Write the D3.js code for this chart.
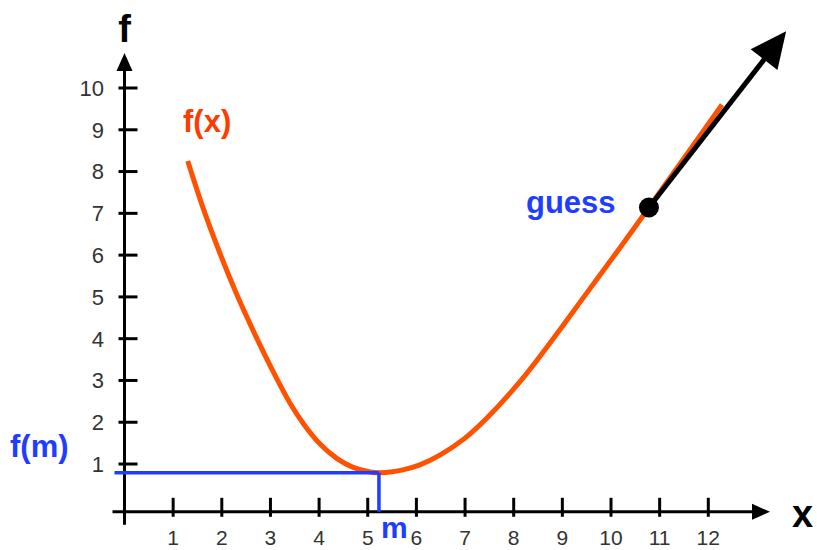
<!DOCTYPE html>
<html>
<head>
<meta charset="utf-8">
<script src="https://cdn.jsdelivr.net/npm/d3@7"></script>
<style>
  html, body { margin: 0; padding: 0; background: #fff; }
  svg { display: block; font-family: "Liberation Sans", Arial, sans-serif; }
</style>
</head>
<body>
<svg id="chart" width="817" height="550"></svg>
<script>
// Sampled points of f(x)
const curveX = [1.3, 1.6, 1.95, 2.3, 2.65, 3.0, 3.4, 3.7, 4.02, 4.37, 4.7, 5.05, 5.25, 5.72, 6.07, 6.49, 7.0, 7.45, 8.15, 8.8, 9.5, 10.2, 10.78, 11.5, 12.28];
const curveY = [8.25, 7.18, 6.08, 5.08, 4.18, 3.34, 2.46, 1.93, 1.48, 1.13, 0.92, 0.81, 0.79, 0.86, 0.98, 1.22, 1.62, 2.1, 3.0, 3.98, 5.09, 6.2, 7.14, 8.32, 9.6];

// Axis tick labels
const xTicks = [1, 2, 3, 4, 5, 6, 7, 8, 9, 10, 11, 12];
const yTicks = [1, 2, 3, 4, 5, 6, 7, 8, 9, 10];

// Minimum m and f(m)
const minPoint = [5.23, 0.79];
// Starting guess and direction arrow end
const guessPoint = [10.78, 7.14];
const arrowEnd = [13.6, 11.36];

const svg = d3.select("#chart");

const x = d3.scaleLinear().domain([0, 12]).range([124.5, 708.3]);
const y = d3.scaleLinear().domain([0, 10]).range([505.8, 88]);

const axisY = y(0) + 6;   // horizontal axis sits slightly below zero
const axisX = x(0);

const ORANGE = "#ff5200";
const BLUE = "#1f3dff";

// --- axes ---
const axes = svg.append("g").attr("stroke", "#000").attr("stroke-width", 3);
axes.append("line").attr("x1", axisX - 12).attr("x2", 754).attr("y1", axisY).attr("y2", axisY);
axes.append("line").attr("x1", axisX).attr("x2", axisX).attr("y1", axisY + 13).attr("y2", 68);

svg.append("path")
  .attr("d", `M${axisX},53 L${axisX - 8},71 L${axisX + 8},71 Z`)
  .attr("fill", "#000");
svg.append("path")
  .attr("d", `M770,${axisY} L752,${axisY - 8} L752,${axisY + 8} Z`)
  .attr("fill", "#000");

// x ticks
const xt = svg.append("g");
xt.selectAll("line").data(xTicks).join("line")
  .attr("x1", d => x(d)).attr("x2", d => x(d))
  .attr("y1", axisY - 14).attr("y2", axisY + 5)
  .attr("stroke", "#000").attr("stroke-width", 3);
xt.selectAll("text").data(xTicks).join("text")
  .attr("x", d => x(d)).attr("y", 545)
  .attr("text-anchor", "middle")
  .attr("font-size", 21).attr("fill", "#333")
  .text(d => d);

// y ticks
const yt = svg.append("g");
yt.selectAll("line").data(yTicks).join("line")
  .attr("x1", axisX - 6).attr("x2", axisX + 13)
  .attr("y1", d => y(d)).attr("y2", d => y(d))
  .attr("stroke", "#000").attr("stroke-width", 3);
yt.selectAll("text").data(yTicks).join("text")
  .attr("x", 104).attr("y", d => y(d))
  .attr("dy", "0.36em")
  .attr("text-anchor", "end")
  .attr("font-size", 22).attr("fill", "#333")
  .text(d => d);

// axis names
svg.append("text").attr("x", axisX).attr("y", 42)
  .attr("text-anchor", "middle").attr("font-size", 38).attr("font-weight", "bold")
  .text("f");
svg.append("text").attr("x", 792).attr("y", 527)
  .attr("font-size", 38).attr("font-weight", "bold")
  .text("x");

// --- f(x) curve ---
const pts = curveX.map((v, i) => [v, curveY[i]]);
const line = d3.line().x(d => x(d[0])).y(d => y(d[1])).curve(d3.curveCatmullRom.alpha(0.5));
svg.append("path")
  .datum(pts)
  .attr("d", line)
  .attr("fill", "none")
  .attr("stroke", ORANGE)
  .attr("stroke-width", 5);

svg.append("text").attr("x", 183).attr("y", 132)
  .attr("font-size", 31).attr("font-weight", "bold").attr("fill", "#ff3c00")
  .text("f(x)");

// --- minimum guides ---
const g = svg.append("g").attr("stroke", BLUE).attr("stroke-width", 3.5).attr("fill", "none");
g.append("line")
  .attr("x1", axisX - 10).attr("x2", x(minPoint[0]))
  .attr("y1", y(minPoint[1])).attr("y2", y(minPoint[1]));
g.append("line")
  .attr("x1", x(minPoint[0])).attr("x2", x(minPoint[0]))
  .attr("y1", y(minPoint[1])).attr("y2", axisY);

svg.append("text").attr("x", 10).attr("y", 457)
  .attr("font-size", 31).attr("font-weight", "bold").attr("fill", BLUE)
  .text("f(m)");
svg.append("text").attr("x", x(minPoint[0]) + 2).attr("y", 538)
  .attr("font-size", 30).attr("font-weight", "bold").attr("fill", BLUE)
  .text("m");

// --- guess point and direction arrow ---
const gx = x(guessPoint[0]), gy = y(guessPoint[1]);
const ax = x(arrowEnd[0]), ay = y(arrowEnd[1]);
const ang = Math.atan2(ay - gy, ax - gx);
const headLen = 36, headHalf = 17;
const bx = ax - headLen * Math.cos(ang), by = ay - headLen * Math.sin(ang);
svg.append("line")
  .attr("x1", gx).attr("y1", gy)
  .attr("x2", bx + 4 * Math.cos(ang)).attr("y2", by + 4 * Math.sin(ang))
  .attr("stroke", "#000").attr("stroke-width", 5);
svg.append("path")
  .attr("d", `M${ax},${ay} L${bx - headHalf * Math.sin(ang)},${by + headHalf * Math.cos(ang)} L${bx + headHalf * Math.sin(ang)},${by - headHalf * Math.cos(ang)} Z`)
  .attr("fill", "#000");
svg.append("circle").attr("cx", gx).attr("cy", gy).attr("r", 10).attr("fill", "#000");

svg.append("text").attr("x", 526).attr("y", 213)
  .attr("font-size", 31).attr("font-weight", "bold").attr("fill", BLUE)
  .text("guess");
</script>
</body>
</html>
